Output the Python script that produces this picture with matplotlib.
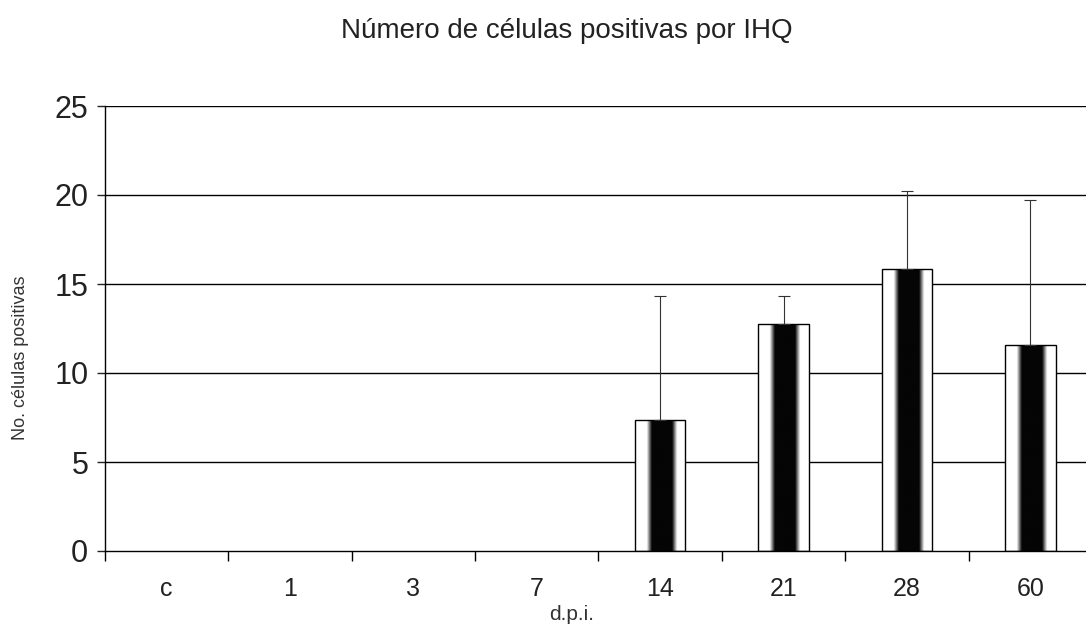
import numpy as np
import matplotlib
matplotlib.use("Agg")
import matplotlib.pyplot as plt

categories = ["c", "1", "3", "7", "14", "21", "28", "60"]
means = [0, 0, 0, 0, 7.35, 12.75, 15.85, 11.55]
upper_err = [0, 0, 0, 0, 6.95, 1.55, 4.35, 8.15]
title = "Número de células positivas por IHQ"
ylabel = "No. células positivas"
xlabel = "d.p.i."

plt.rcParams['font.family'] = ['Liberation Sans', 'DejaVu Sans']

fig = plt.figure(figsize=(10.86, 6.31), dpi=100)
ax = fig.add_axes([105/1086, 1 - 551/631, (1092 - 105)/1086, (551 - 106)/631])

x = np.arange(len(categories))
width = 0.41

# grid
for v in [5, 10, 15, 20, 25]:
    ax.axhline(v, color="black", lw=1.0, zorder=0)

# gradient: white edges, black centre
prof = np.linspace(0, 1, 200)
d = np.abs(prof - 0.53)
vals = np.clip((d - 0.2) / 0.1, 0, 1)
vals = 0.02 + 0.98 * vals
grad = np.tile(vals, (2, 1))
cmap = plt.get_cmap("gray")

bars = ax.bar(x, means, width=width, facecolor="none", edgecolor="black",
              linewidth=1.0, zorder=3)
for b, m in zip(bars, means):
    if m <= 0:
        b.set_linewidth(0)
        continue
    x0 = b.get_x()
    im = ax.imshow(grad, cmap=cmap, vmin=0, vmax=1, aspect="auto",
                   extent=[x0, x0 + b.get_width(), 0, m], zorder=2,
                   interpolation="bilinear")
    im.set_clip_path(b)

ax.set_xlim(-0.5, len(categories) - 0.5)
ax.set_ylim(0, 25)

idx = [i for i, m in enumerate(means) if m > 0]
ax.errorbar([x[i] for i in idx], [means[i] for i in idx],
            yerr=[[0]*len(idx), [upper_err[i] for i in idx]],
            fmt="none", ecolor="#333333", elinewidth=0.8, capsize=4,
            capthick=0.8, zorder=4)

for s in ["top", "right"]:
    ax.spines[s].set_visible(False)
ax.spines["left"].set_linewidth(1.0)
ax.spines["bottom"].set_linewidth(1.0)

ax.set_yticks([0, 5, 10, 15, 20, 25])
ax.tick_params(axis="y", direction="out", length=6, width=1, labelsize=22, pad=6,
               colors="#222222")
ax.set_xticks(x)
ax.set_xticklabels(categories)
ax.tick_params(axis="x", length=0, labelsize=18, pad=19, colors="#222222")
ax.set_xticks(np.arange(-0.5, len(categories), 1.0), minor=True)
ax.tick_params(axis="x", which="minor", direction="out", length=7, width=1)

ax.set_ylabel(ylabel, fontsize=13, color="#333333", va="center")
ax.yaxis.set_label_coords((20 - 105) / 987, (551 - 358) / 445)
ax.set_xlabel(xlabel, fontsize=15, color="#333333", va="center")
ax.xaxis.set_label_coords((572 - 105) / 987, (551 - 615) / 445)

fig.text(567/1086, 1 - 31/631, title, ha="center", va="center", fontsize=20,
         color="#222222")

fig.savefig("out.png", dpi=100)
